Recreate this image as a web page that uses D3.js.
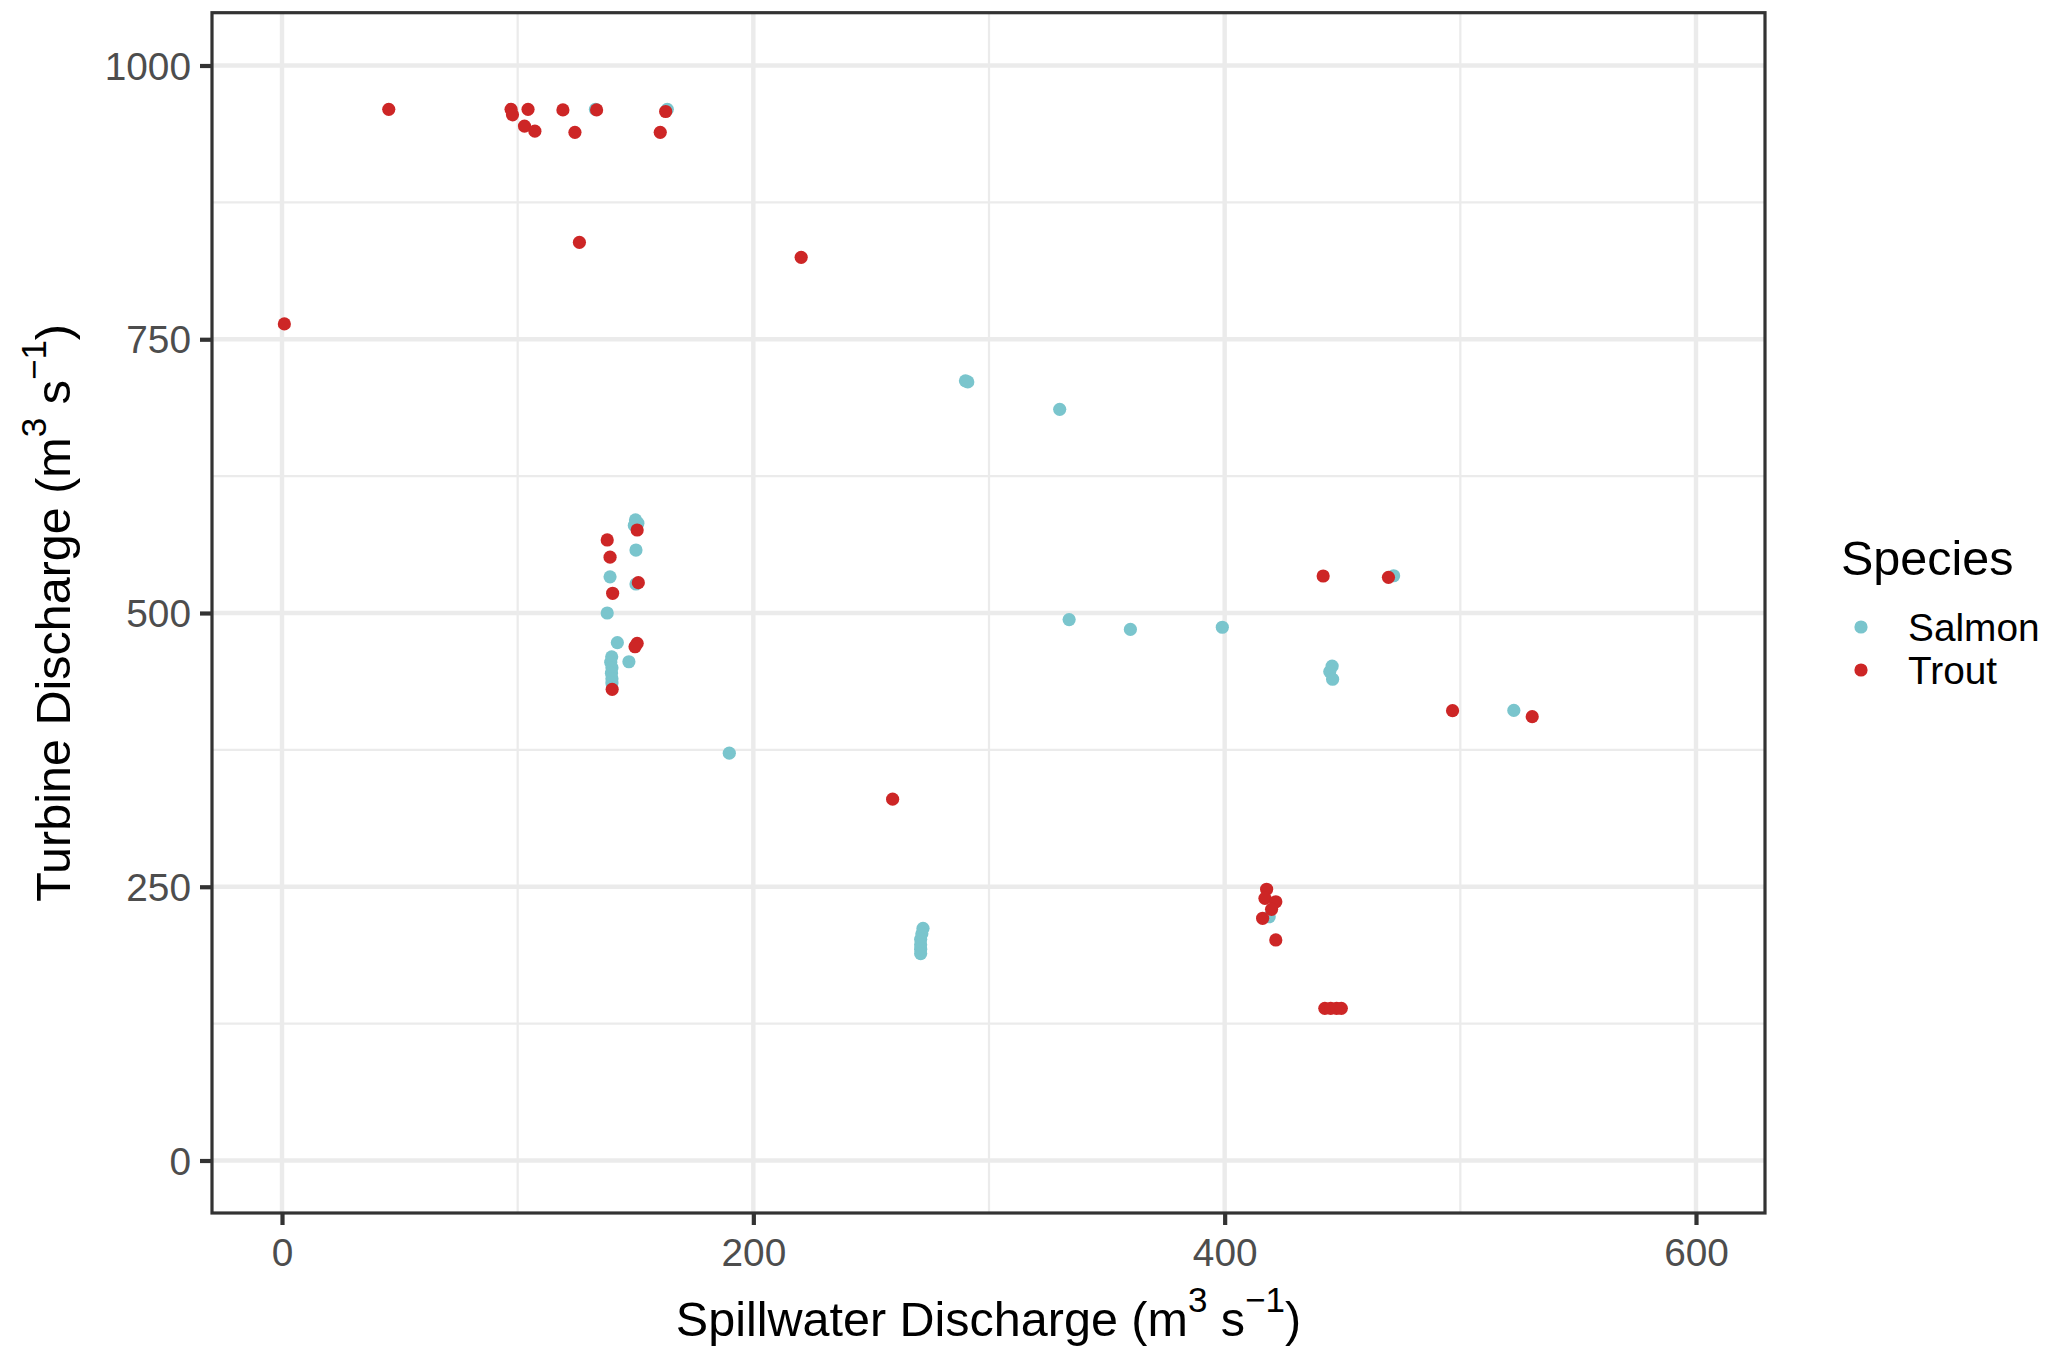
<!DOCTYPE html>
<html>
<head>
<meta charset="utf-8">
<script src="https://cdn.jsdelivr.net/npm/d3@7"></script>
<style>
  html, body { margin: 0; padding: 0; background: #fff; }
  svg { display: block; }
  text { font-family: "Liberation Sans", Arial, sans-serif; }
</style>
</head>
<body>
<script>
// ---------------- data ----------------
const species = ["Salmon", "Trout"];
const speciesColors = ["#7AC5CD", "#CD2626"];

const salmonX = [133, 163.5, 150, 151, 149.5, 150.2, 139.2, 150.2, 138, 142.3, 147.2,
  139.9, 139.5, 140, 139.8, 140, 140, 189.8,
  272, 271.5, 271, 271, 271, 271,
  290, 291, 330, 334, 360, 399, 445.6, 444.6, 445.8, 471.7, 418.9, 522.7];
const salmonY = [960, 960, 585, 582, 580, 557.5, 533, 526.5, 500, 473, 455.5,
  460, 455, 450, 445, 440, 436, 372,
  212, 207, 202, 197, 193, 189,
  712, 711, 686, 494, 485, 487, 451.5, 446.5, 439.5, 534, 222.6, 411];

const troutX = [1, 45.3, 97.2, 97.8, 104.4, 102.9, 107.3, 119.2, 124.3, 133.5, 162.8, 160.5,
  126.2, 220.3, 138, 139.2, 140.3, 151.2, 150.7, 150.7, 149.8, 140.1,
  259.1, 441.8, 469.5, 496.7, 530.5,
  417.8, 417.1, 421.7, 419.9, 416.1, 421.7,
  442.5, 445, 447.5, 449.5];
const troutY = [764, 960, 960, 955, 960, 944.7, 940, 959.4, 939, 959.4, 958, 939,
  838.5, 824.8, 566.7, 551, 518, 527.7, 575.8, 472.3, 469.2, 430.3,
  330, 533.8, 532.6, 410.8, 405.3,
  247.7, 239.4, 236.3, 229.4, 221.2, 201.4,
  139, 139, 139, 139];

const xTicks = [0, 200, 400, 600];
const xMinor = [100, 300, 500];
const yTicks = [0, 250, 500, 750, 1000];
const yMinor = [125, 375, 625, 875];

// ---------------- layout ----------------
const W = 2049, H = 1350;
const panel = { left: 212, right: 1765, top: 12.7, bottom: 1213 };

const x = d3.scaleLinear().domain([0, 600]).range([282, 1696]);
const y = d3.scaleLinear().domain([0, 1000]).range([1160.5, 65.5]);

const svg = d3.select("body").append("svg")
  .attr("width", W).attr("height", H)
  .attr("viewBox", `0 0 ${W} ${H}`);

svg.append("rect").attr("width", W).attr("height", H).attr("fill", "#fff");

// clip for panel contents
svg.append("clipPath").attr("id", "pclip").append("rect")
  .attr("x", panel.left).attr("y", panel.top)
  .attr("width", panel.right - panel.left).attr("height", panel.bottom - panel.top);

const grid = svg.append("g").attr("clip-path", "url(#pclip)");

// minor grid
grid.selectAll("line.xminor").data(xMinor).join("line")
  .attr("x1", d => x(d)).attr("x2", d => x(d))
  .attr("y1", panel.top).attr("y2", panel.bottom)
  .attr("stroke", "#EBEBEB").attr("stroke-width", 2.2);
grid.selectAll("line.yminor").data(yMinor).join("line")
  .attr("y1", d => y(d)).attr("y2", d => y(d))
  .attr("x1", panel.left).attr("x2", panel.right)
  .attr("stroke", "#EBEBEB").attr("stroke-width", 2.2);
// major grid
grid.selectAll("line.xmajor").data(xTicks).join("line")
  .attr("x1", d => x(d)).attr("x2", d => x(d))
  .attr("y1", panel.top).attr("y2", panel.bottom)
  .attr("stroke", "#EBEBEB").attr("stroke-width", 4.4);
grid.selectAll("line.ymajor").data(yTicks).join("line")
  .attr("y1", d => y(d)).attr("y2", d => y(d))
  .attr("x1", panel.left).attr("x2", panel.right)
  .attr("stroke", "#EBEBEB").attr("stroke-width", 4.4);

// points
const pts = svg.append("g").attr("clip-path", "url(#pclip)");
const seriesX = [salmonX, troutX];
const seriesY = [salmonY, troutY];
species.forEach((sp, i) => {
  const data = seriesX[i].map((v, j) => [v, seriesY[i][j]]);
  pts.append("g").selectAll("circle").data(data).join("circle")
    .attr("cx", d => x(d[0])).attr("cy", d => y(d[1]))
    .attr("r", 6.6).attr("fill", speciesColors[i]);
});

// panel border
svg.append("rect")
  .attr("x", panel.left).attr("y", panel.top)
  .attr("width", panel.right - panel.left).attr("height", panel.bottom - panel.top)
  .attr("fill", "none").attr("stroke", "#333333").attr("stroke-width", 3.2);

// axes
const tickFont = 38.8;
const xAxis = svg.append("g").attr("transform", `translate(0,${panel.bottom})`)
  .call(d3.axisBottom(x).tickValues(xTicks).tickSize(12).tickPadding(13).tickFormat(d3.format("d")));
const yAxis = svg.append("g").attr("transform", `translate(${panel.left},0)`)
  .call(d3.axisLeft(y).tickValues(yTicks).tickSize(12).tickPadding(9).tickFormat(d3.format("d")));
[xAxis, yAxis].forEach(a => {
  a.select(".domain").remove();
  a.selectAll(".tick line").attr("stroke", "#333333").attr("stroke-width", 4.2);
  a.selectAll(".tick text").attr("fill", "#4D4D4D").attr("font-size", tickFont)
    .attr("font-family", "'Liberation Sans', Arial, sans-serif");
});
yAxis.selectAll(".tick text").attr("dy", "0.35em");

// axis titles with superscripts
const titleFont = 48.5;
const supFont = 35;
const supShift = 24;
function unitTitle(g, label) {
  const t = g.append("text").attr("font-size", titleFont).attr("fill", "#000")
    .attr("text-anchor", "middle");
  t.append("tspan").text(label + " (m");
  t.append("tspan").attr("font-size", supFont).attr("dy", -supShift).text("3");
  t.append("tspan").attr("dy", supShift).text(" s");
  t.append("tspan").attr("font-size", supFont).attr("dy", -supShift).text("\u22121");
  t.append("tspan").attr("dy", supShift).text(")");
  return t;
}
unitTitle(svg.append("g").attr("transform", `translate(${(panel.left + panel.right) / 2},1336)`),
  "Spillwater Discharge");
unitTitle(svg.append("g").attr("transform", `translate(70,${(panel.top + panel.bottom) / 2}) rotate(-90)`),
  "Turbine Discharge");

// legend
const legend = svg.append("g");
legend.append("text").attr("x", 1841).attr("y", 575)
  .attr("font-size", titleFont).attr("fill", "#000").text("Species");
const keyY = d3.scalePoint().domain(species).range([627, 670]);
species.forEach((sp, i) => {
  legend.append("circle").attr("cx", 1861).attr("cy", keyY(sp)).attr("r", 6.6)
    .attr("fill", speciesColors[i]);
  legend.append("text").attr("x", 1908).attr("y", keyY(sp)).attr("dy", "0.35em")
    .attr("font-size", tickFont).attr("fill", "#000").text(sp);
});
</script>
</body>
</html>
